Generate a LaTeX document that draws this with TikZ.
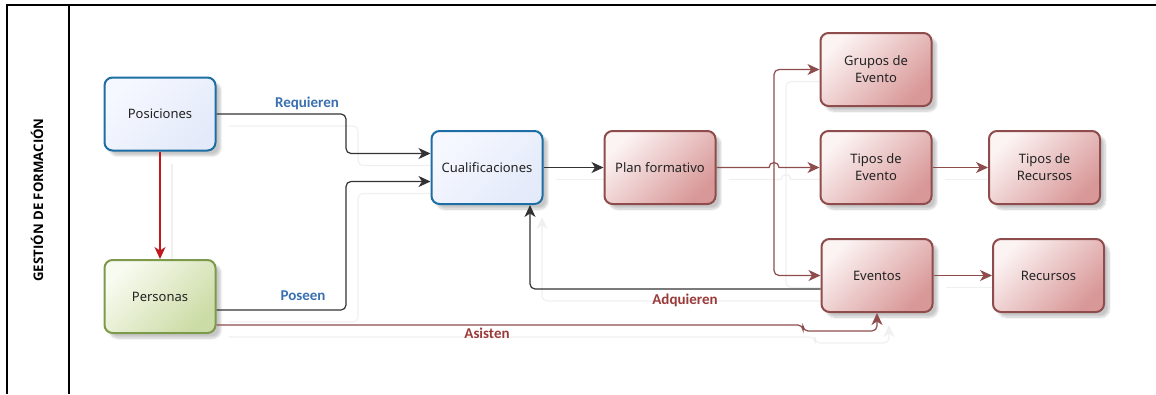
\documentclass[tikz,border=0pt]{standalone}
\usepackage{fontspec}
\setmainfont{Noto Sans}
\newfontfamily\lblfont{Carlito}
\newfontfamily\titlefont{Open Sans Bold}
\usetikzlibrary{arrows.meta,calc,shadows.blur}
\pgfdeclarelayer{bg}
\pgfsetlayers{bg,main}
\definecolor{bborder}{HTML}{1C6EA4}
\definecolor{bfillA}{HTML}{F6F8FF}
\definecolor{bfillB}{HTML}{E4EAFA}
\definecolor{gborder}{HTML}{7D9A4C}
\definecolor{gfillA}{HTML}{F8FBF0}
\definecolor{gfillB}{HTML}{CCDCA6}
\definecolor{rborder}{HTML}{8E4C4C}
\definecolor{rfillA}{HTML}{FCF3F3}
\definecolor{rfillB}{HTML}{D99898}
\definecolor{rline}{HTML}{8E4C4C}
\definecolor{redarrow}{HTML}{C0181C}
\definecolor{lblblue}{HTML}{3A6FB0}
\definecolor{lblred}{HTML}{9B3A3A}
\definecolor{txt}{HTML}{222222}
\definecolor{ghostc}{HTML}{F0F0F0}
\tikzset{
  box/.style={rounded corners=8pt, line width=2pt, minimum width=111pt, minimum height=73pt,
    inner sep=0pt, align=center, text=txt, font=\fontsize{13}{17}\selectfont,
    shading angle=45,
    blur shadow={shadow xshift=5pt, shadow yshift=-5pt, shadow blur steps=8, shadow opacity=22}},
  bluebox/.style={box, draw=bborder, top color=bfillA, bottom color=bfillB, shading angle=45},
  greenbox/.style={box, draw=gborder, top color=gfillA, bottom color=gfillB, shading angle=45},
  redbox/.style={box, draw=rborder, top color=rfillA, bottom color=rfillB, shading angle=45},
  tipk/.style={-{Stealth[length=12pt,width=11pt,inset=3.5pt]}},
  conn/.style={draw=black!80, line width=1.2pt, rounded corners=5pt, tipk},
  rconn/.style={draw=rline, line width=1.2pt, rounded corners=5pt, tipk},
  redconn/.style={draw=redarrow, line width=1.2pt, tipk},
  lbl/.style={font=\lblfont\bfseries\fontsize{15}{17}\selectfont},
  ghost/.style={draw=ghostc, line width=1.2pt, rounded corners=5pt, tipk}
}
\newcommand\drawconnectors{%
  \draw[redconn] (pos.south) -- (per.north);
  \draw[conn] (pos.east) -- (346,114) |- ($(cual.west)+(0,-14)$);
  \draw[conn] ($(per.east)+(0,13.5)$) -- (346,310) |- ($(cual.west)+(0,14)$);
  \draw[conn] (cual.east) -- (plan.west);
  \draw[rconn, sharp corners] (plan.east) -- ($(j)+(-5,0)$) arc[start angle=180, end angle=0, radius=5pt] -- (tev.west);
  \draw[rconn] (j) |- (grp.west);
  \draw[rconn] (j) |- (eve.west);
  \draw[rconn] (tev.east) -- (trc.west);
  \draw[rconn] (eve.east) -- (rec.west);
  \draw[conn] ($(eve.west)+(0,13.5)$) -| ($(cual.south)+(43,0)$);
  \draw[rconn] ($(per.east)+(0,28.5)$) -- (803,325) -- (803,331) -- (877,331) -- (eve.south);
}
\begin{document}
\begin{tikzpicture}[x=1pt,y=-1pt]
\useasboundingbox (0,0) rectangle (1156,394);
% frame
\draw[line width=1.5pt] (7,394) -- (7,5) -- (1156,5);
\draw[line width=1.5pt] (69,5) -- (69,394);
\node[rotate=90, font=\titlefont\fontsize{13.2}{15}\selectfont, text=black] (title) at (37,200) {GESTIÓN DE FORMACIÓN};
% nodes
\node[bluebox] (pos) at (160,114) {Posiciones};
\node[greenbox] (per) at (160,296.5) {Personas};
\node[bluebox] (cual) at (487,167.5) {Cualificaciones};
\node[redbox] (plan) at (660,167.5) {Plan formativo};
\node[redbox] (grp) at (876,69.5) {Grupos de\\Evento};
\node[redbox] (tev) at (876,167.5) {Tipos de\\Evento};
\node[redbox] (trc) at (1044.5,167.5) {Tipos de\\Recursos};
\node[redbox] (eve) at (877,275.5) {Eventos};
\node[redbox] (rec) at (1048.5,275.5) {Recursos};
\coordinate (j) at (774,167.5);
% ghost (shadow) connectors
\begin{pgfonlayer}{bg}
\begin{scope}[transform canvas={shift={(12,12)}},
  conn/.style={ghost}, rconn/.style={ghost}, redconn/.style={ghost}]
\drawconnectors
\end{scope}
\end{pgfonlayer}
% connectors
\drawconnectors
% labels
\node[lbl, text=lblblue] (l1) at (307,103) {Requieren};
\node[lbl, text=lblblue] (l2) at (303,296) {Poseen};
\node[lbl, text=lblred] (l3) at (685,300) {Adquieren};
\node[lbl, text=lblred] (l4) at (487,333) {Asisten};
\end{tikzpicture}
\end{document}
